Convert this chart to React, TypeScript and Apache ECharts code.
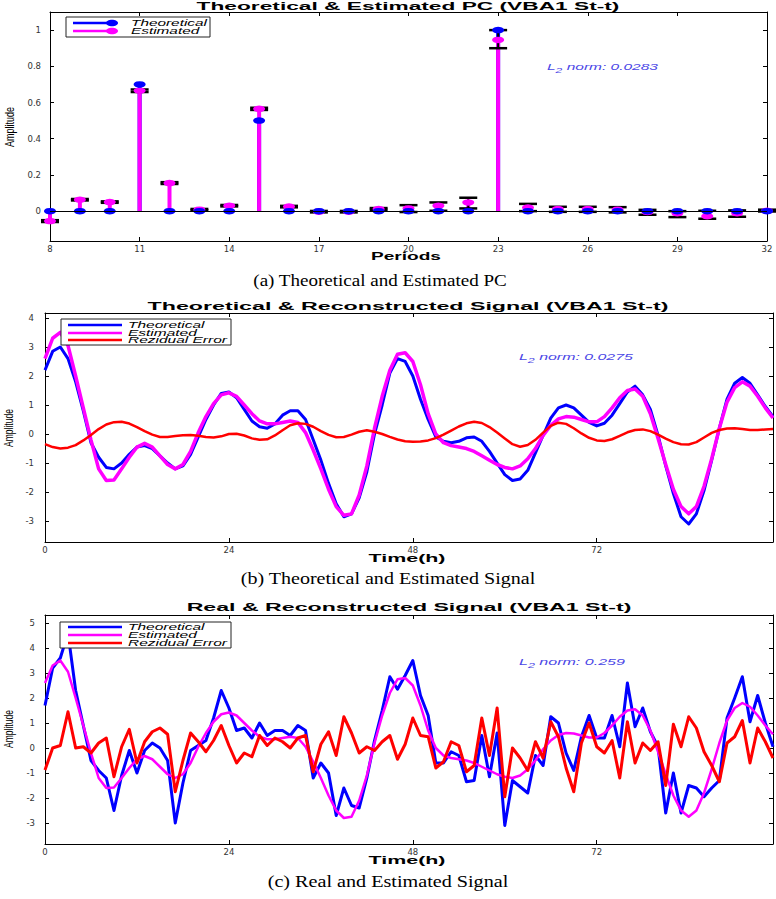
import React, { useEffect, useRef } from "react";
import * as echarts from "echarts";

// ---------- Data ----------
const periods = [8, 9, 10, 11, 12, 13, 14, 15, 16, 17, 18, 19, 20, 21, 22, 23, 24, 25, 26, 27, 28, 29, 30, 31, 32];
const theoreticalPC = [0, 0, 0, 0.7, 0, 0, 0, 0.5, 0, 0, 0, 0, 0, 0, 0, 1.0, 0, 0, 0, 0, 0, 0, 0, 0, 0];
const estimatedPC = [-0.055, 0.063, 0.05, 0.665, 0.155, 0.008, 0.03, 0.565, 0.025, -0.003, -0.003, 0.012, 0.015, 0.03, 0.048, 0.946, 0.02, 0.012, 0.012, 0.008, -0.005, -0.012, -0.028, -0.012, 0.002];
const errLowPC = [-0.06, 0.059, 0.046, 0.658, 0.15, 0.004, 0.026, 0.559, 0.021, -0.007, -0.007, 0.007, -0.005, 0.002, 0.015, 0.9, 0.0, -0.004, -0.004, -0.007, -0.02, -0.033, -0.042, -0.031, -0.002];
const errHighPC = [-0.05, 0.067, 0.054, 0.672, 0.16, 0.012, 0.034, 0.571, 0.029, 0.001, 0.001, 0.017, 0.033, 0.048, 0.074, 1.0, 0.04, 0.024, 0.024, 0.022, 0.007, 0.0, 0.002, 0.004, 0.008];
const pcXTicks = [8, 11, 14, 17, 20, 23, 26, 29, 32];
const pcYTicks = [0, 0.2, 0.4, 0.6, 0.8, 1];

const hours = [
  0, 1, 2, 3, 4, 5, 6, 7, 8, 9, 10, 11, 12, 13, 14, 15, 16, 17, 18, 19,
  20, 21, 22, 23, 24, 25, 26, 27, 28, 29, 30, 31, 32, 33, 34, 35, 36, 37, 38, 39,
  40, 41, 42, 43, 44, 45, 46, 47, 48, 49, 50, 51, 52, 53, 54, 55, 56, 57, 58, 59,
  60, 61, 62, 63, 64, 65, 66, 67, 68, 69, 70, 71, 72, 73, 74, 75, 76, 77, 78, 79,
  80, 81, 82, 83, 84, 85, 86, 87, 88, 89, 90, 91, 92, 93, 94, 95,
];
const theoreticalSignal = [
  2.2, 2.85, 3.0, 2.6, 1.8, 0.8, -0.3, -0.8, -1.15, -1.2,
  -1.0, -0.7, -0.45, -0.4, -0.5, -0.75, -1.0, -1.2, -1.1, -0.7,
  -0.1, 0.5, 1.0, 1.4, 1.45, 1.25, 0.85, 0.45, 0.25, 0.2,
  0.35, 0.65, 0.8, 0.8, 0.5, -0.2, -0.9, -1.7, -2.4, -2.85,
  -2.75, -2.2, -1.3, 0.0, 1.0, 2.1, 2.6, 2.5, 2.0, 1.2,
  0.5, -0.1, -0.25, -0.3, -0.25, -0.13, -0.1, -0.25, -0.6, -1.0,
  -1.4, -1.6, -1.55, -1.25, -0.65, -0.05, 0.55, 0.9, 1.0, 0.9,
  0.65, 0.4, 0.28, 0.37, 0.65, 1.05, 1.45, 1.65, 1.35, 0.85,
  -0.05, -1.1, -2.05, -2.85, -3.1, -2.75, -1.95, -0.9, 0.2, 1.2,
  1.75, 1.95, 1.75, 1.35, 0.95, 0.6,
];
const estimatedSignal = [
  2.6, 3.3, 3.5, 3.05, 2.0, 0.9, -0.2, -1.2, -1.6, -1.58,
  -1.2, -0.8, -0.45, -0.32, -0.45, -0.75, -1.05, -1.2, -1.05, -0.6,
  0.05, 0.6, 1.05, 1.35, 1.42, 1.3, 1.0, 0.7, 0.45, 0.35,
  0.35, 0.4, 0.45, 0.4, 0.05, -0.55, -1.2, -1.9, -2.5, -2.8,
  -2.75, -2.1, -1.1, 0.2, 1.3, 2.2, 2.75, 2.8, 2.5, 1.7,
  0.7, 0.0, -0.3, -0.4, -0.45, -0.5, -0.6, -0.75, -0.9, -1.05,
  -1.15, -1.2, -1.1, -0.85, -0.5, -0.05, 0.3, 0.52, 0.6, 0.58,
  0.5, 0.42, 0.42, 0.6, 0.9, 1.25, 1.5, 1.55, 1.3, 0.7,
  -0.15, -1.05, -1.9, -2.5, -2.75, -2.5, -1.8, -0.85, 0.2, 1.1,
  1.6, 1.8, 1.65, 1.3, 0.9, 0.55,
];
const residualSignal = [
  -0.35, -0.45, -0.5, -0.47, -0.38, -0.22, -0.03, 0.17, 0.33, 0.41,
  0.42, 0.36, 0.24, 0.1, -0.02, -0.1, -0.1, -0.07, -0.04, -0.03,
  -0.06, -0.1, -0.12, -0.08, 0.0, 0.01, -0.05, -0.15, -0.2, -0.18,
  -0.05, 0.13, 0.3, 0.37, 0.35, 0.25, 0.1, -0.03, -0.11, -0.1,
  -0.02, 0.08, 0.13, 0.08, 0.0, -0.1, -0.19, -0.25, -0.27, -0.26,
  -0.22, -0.14, -0.02, 0.12, 0.26, 0.37, 0.42, 0.38, 0.24, 0.05,
  -0.15, -0.35, -0.44, -0.38, -0.2, 0.05, 0.28, 0.39, 0.35, 0.2,
  0.02, -0.13, -0.22, -0.24, -0.18, -0.06, 0.06, 0.14, 0.16, 0.1,
  -0.02, -0.16, -0.28, -0.35, -0.36, -0.28, -0.12, 0.04, 0.14, 0.19,
  0.2, 0.17, 0.14, 0.14, 0.16, 0.17,
];
const realSignal = [
  1.7, 3.2, 3.6, 4.6, 2.3, 0.9, -0.5, -0.9, -1.2, -2.5,
  -1.1, -0.1, -1.0, -0.1, 0.2, 0.0, -0.5, -3.0, -1.4, -0.1,
  0.1, 0.3, 1.2, 2.3, 1.6, 0.7, 0.8, 0.4, 1.0, 0.5,
  0.7, 0.7, 0.5, 0.9, 0.7, -1.2, -0.6, -1.0, -2.7, -1.6,
  -2.3, -2.4, -1.2, 0.3, 1.5, 2.85, 2.35, 2.9, 3.5, 2.1,
  1.3, -0.6, -0.6, -0.15, -0.3, -1.35, -1.3, 0.5, -1.15, 0.6,
  -3.1, -1.3, -1.55, -1.8, -0.3, -0.7, 1.25, 1.0, -0.2, -0.9,
  0.45, 1.3, 0.4, 0.4, 1.3, 0.05, 2.6, 0.85, 1.6, 0.65,
  0.05, -2.6, -1.0, -2.6, -1.5, -1.6, -1.95, -1.6, -1.3, 1.2,
  2.0, 2.85, 1.05, 2.1, 1.0, 0.05,
];
const realResidual = [
  -0.88, 0.0, 0.1, 1.45, 0.0, 0.05, -0.2, 0.2, 0.4, -1.15,
  0.05, 0.75, -0.6, 0.25, 0.65, 0.8, 0.55, -1.75, -0.5, 0.6,
  0.25, -0.15, 0.3, 0.9, 0.1, -0.6, -0.2, -0.35, 0.5, 0.1,
  0.4, 0.25, 0.0, 0.4, 0.5, -0.95, 0.15, 0.65, -0.3, 1.25,
  0.6, -0.2, 0.05, -0.1, 0.25, 0.5, -0.45, 0.15, 1.2, 0.5,
  0.45, -0.8, -0.55, 0.25, 0.1, -0.95, -0.7, 1.2, -0.3, 1.6,
  -1.95, 0.0, -0.4, -0.9, 0.25, -0.4, 1.05, 0.45, -0.8, -1.75,
  0.2, 1.0, 0.05, -0.2, 0.3, -1.2, 1.05, -0.6, 0.2, -0.1,
  0.25, -1.5, 0.95, 0.05, 1.25, 0.8, -0.15, -0.7, -1.35, 0.2,
  0.45, 1.1, -0.6, 0.8, 0.25, -0.4,
];
const timeTicks = [0, 24, 48, 72];
const signalYTicks = [-3, -2, -1, 0, 1, 2, 3, 4];
const realYTicks = [-3, -2, -1, 0, 1, 2, 3, 4, 5];

const titles = [
  "Theoretical & Estimated PC (VBA1 St-t)",
  "Theoretical & Reconstructed Signal (VBA1 St-t)",
  "Real & Reconstructed Signal (VBA1 St-t)",
];
const captions = [
  "(a) Theoretical and Estimated PC",
  "(b) Theoretical and Estimated Signal",
  "(c) Real and Estimated Signal",
];
const normValues = ["0.0283", "0.0275", "0.259"];
const legendNames = ["Theoretical", "Estimated", "Rezidual Error"];

// ---------- Styling helpers ----------
const BLUE = "#0000ff";
const MAGENTA = "#ff00ff";
const RED = "#ff0000";
const NORM_COLOR = "#4a46e6";
const SANS = '"Liberation Sans", Arial, sans-serif';

let measureCtx: CanvasRenderingContext2D | null = null;
function fitScale(text: string, font: string, target: number): number {
  if (!measureCtx) measureCtx = document.createElement("canvas").getContext("2d");
  if (!measureCtx) return 1;
  measureCtx.font = font;
  const w = measureCtx.measureText(text).width;
  return w > 0 ? target / w : 1;
}

function txt(text: string, x: number, y: number, font: string, target: number | null, opts: any = {}) {
  const align = opts.align || "center";
  return {
    type: "text",
    x,
    y,
    z: 100,
    silent: true,
    rotation: opts.rotation || 0,
    scaleX: target ? fitScale(text, font, target) : 1,
    style: {
      text,
      font,
      fill: opts.fill || "#000",
      textAlign: align,
      textVerticalAlign: "middle",
      align,
      verticalAlign: "middle",
    },
  };
}

function normText(value: string, x: number, y: number, target: number) {
  const font = `italic 9px ${SANS}`;
  const scale = fitScale(`L2 norm: ${value}`, font, target);
  return {
    type: "text",
    x,
    y,
    z: 100,
    silent: true,
    scaleX: scale,
    style: {
      text: `{a|L}{b|2}{a| norm: ${value}}`,
      textAlign: "left",
      textVerticalAlign: "middle",
      align: "left",
      verticalAlign: "middle",
      rich: {
        a: { font, fill: NORM_COLOR, lineHeight: 14, verticalAlign: "middle" },
        b: { font: `italic 7px ${SANS}`, fill: NORM_COLOR, lineHeight: 14, verticalAlign: "bottom" },
      },
    },
  };
}

function legend(box: { x: number; y: number; w: number; h: number }, rows: number[], lineX: [number, number], textX: number, colors: string[], names: string[], textTarget: number, marker: boolean) {
  const font = `italic 9px ${SANS}`;
  const longest = names.reduce((a, b) => (a.length >= b.length ? a : b));
  const scale = fitScale(longest, font, textTarget);
  const children: any[] = [
    { type: "rect", z: 100, shape: { x: box.x, y: box.y, width: box.w, height: box.h }, style: { fill: "#fff", stroke: "#222", lineWidth: 1 } },
  ];
  rows.forEach((ry, i) => {
    children.push({ type: "line", z: 101, shape: { x1: lineX[0], y1: ry, x2: lineX[1], y2: ry }, style: { stroke: colors[i], lineWidth: 2.5 } });
    if (marker) {
      children.push({ type: "ellipse", z: 102, shape: { cx: lineX[1] - 2, cy: ry, rx: 6, ry: 3.2 }, style: { fill: colors[i] } });
    }
    children.push({
      type: "text",
      z: 102,
      x: textX,
      y: ry,
      scaleX: scale,
      style: { text: names[i], font, fill: "#000", textAlign: "left", textVerticalAlign: "middle", align: "left", verticalAlign: "middle" },
    });
  });
  return { type: "group", silent: true, children };
}

// ---------- Axis builders ----------
const tickStyle = { inside: true, length: 4, lineStyle: { color: "#000", width: 1 } };
const lineStyleAxis = { show: true, lineStyle: { color: "#000", width: 1 } };
const labelStyle = { color: "#333", fontSize: 8.5, fontFamily: '"DejaVu Sans", sans-serif' };

function xAxes(grid: number, min: number, max: number, ticks: number[]) {
  return [
    {
      type: "value", gridIndex: grid, position: "bottom", min, max,
      axisLine: { ...lineStyleAxis, onZero: false },
      axisTick: { ...tickStyle, customValues: ticks },
      axisLabel: { ...labelStyle, margin: 3, customValues: ticks },
      splitLine: { show: false },
    },
    {
      type: "value", gridIndex: grid, position: "top", min, max,
      axisLine: { ...lineStyleAxis, onZero: false },
      axisTick: { ...tickStyle, customValues: ticks },
      axisLabel: { show: false },
      splitLine: { show: false },
    },
  ];
}
function yAxes(grid: number, min: number, max: number, ticks: number[], margin: number) {
  return [
    {
      type: "value", gridIndex: grid, position: "left", min, max,
      axisLine: { ...lineStyleAxis, onZero: false },
      axisTick: { ...tickStyle, customValues: ticks },
      axisLabel: { ...labelStyle, margin, customValues: ticks },
      splitLine: { show: false },
    },
    {
      type: "value", gridIndex: grid, position: "right", min, max,
      axisLine: { ...lineStyleAxis, onZero: false },
      axisTick: { ...tickStyle, customValues: ticks },
      axisLabel: { show: false },
      splitLine: { show: false },
    },
  ];
}

function stemSeries(name: string, values: number[], color: string, width: number) {
  return {
    type: "custom",
    name,
    xAxisIndex: 0,
    yAxisIndex: 0,
    silent: true,
    encode: { x: 0, y: 1 },
    data: periods.map((p, i) => [p, values[i]]),
    renderItem: (_params: any, api: any) => {
      const p0 = api.coord([api.value(0), 0]);
      const p1 = api.coord([api.value(0), api.value(1)]);
      return { type: "line", shape: { x1: p0[0], y1: p0[1], x2: p1[0], y2: p1[1] }, style: { stroke: color, lineWidth: width } };
    },
  };
}

function markerSeries(name: string, values: number[], color: string) {
  return {
    type: "scatter",
    name,
    xAxisIndex: 0,
    yAxisIndex: 0,
    silent: true,
    symbol: "circle",
    symbolSize: [12, 6.5],
    itemStyle: { color, opacity: 1 },
    data: periods.map((p, i) => [p, values[i]]),
  };
}

function lineSeries(name: string, values: number[], color: string, width: number, axis: number) {
  return {
    type: "line",
    name,
    xAxisIndex: axis,
    yAxisIndex: axis,
    silent: true,
    showSymbol: false,
    symbol: "none",
    lineStyle: { color, width, join: "round" },
    itemStyle: { color },
    data: hours.map((h, i) => [h, values[i]]),
  };
}

function buildOption(): any {
  const errorBars = {
    type: "custom",
    name: "Error",
    xAxisIndex: 0,
    yAxisIndex: 0,
    silent: true,
    encode: { x: 0, y: [1, 2] },
    data: periods.map((p, i) => [p, errLowPC[i], errHighPC[i]]),
    renderItem: (_params: any, api: any) => {
      const x = api.value(0);
      const lo = api.coord([x, api.value(1)]);
      const hi = api.coord([x, api.value(2)]);
      const hw = 9;
      const st = { stroke: "#000", lineWidth: 2.5 };
      return {
        type: "group",
        children: [
          { type: "line", shape: { x1: lo[0], y1: lo[1], x2: hi[0], y2: hi[1] }, style: { stroke: "#000", lineWidth: 2 } },
          { type: "line", shape: { x1: lo[0] - hw, y1: lo[1], x2: lo[0] + hw, y2: lo[1] }, style: st },
          { type: "line", shape: { x1: hi[0] - hw, y1: hi[1], x2: hi[0] + hw, y2: hi[1] }, style: st },
        ],
      };
    },
  };

  const blueStems: any = stemSeries("Theoretical stems", theoreticalPC, BLUE, 4);
  blueStems.markLine = {
    silent: true,
    symbol: ["none", "none"],
    label: { show: false },
    lineStyle: { color: "#000", width: 1, type: "solid" },
    data: [{ yAxis: 0 }],
  };

  const series = [
    blueStems,
    stemSeries("Estimated stems", estimatedPC, MAGENTA, 4),
    markerSeries("Estimated", estimatedPC, MAGENTA),
    markerSeries("Theoretical", theoreticalPC, BLUE),
    errorBars,
    lineSeries("Theoretical", theoreticalSignal, BLUE, 3, 2),
    lineSeries("Estimated", estimatedSignal, MAGENTA, 3.5, 2),
    lineSeries("Rezidual Error", residualSignal, RED, 2.5, 2),
    lineSeries("Theoretical", realSignal, BLUE, 3, 4),
    lineSeries("Estimated", estimatedSignal, MAGENTA, 2.5, 4),
    lineSeries("Rezidual Error", realResidual, RED, 3, 4),
  ];

  const titleFont = `bold 11px ${SANS}`;
  const nameFont = `bold 10px ${SANS}`;
  const ampFont = `12px ${SANS}`;
  const capFont = `16px "Liberation Serif", "Times New Roman", serif`;

  const graphic = [
    txt(titles[0], 408, 6, titleFont, 423),
    txt(titles[1], 408, 306, titleFont, 521),
    txt(titles[2], 409, 607, titleFont, 445),
    txt("Periods", 406, 256, nameFont, 70),
    txt("Time(h)", 407, 559, nameFont, 77),
    txt("Time(h)", 407, 861, nameFont, 77),
    txt("Amplitude", 9, 127, ampFont, 40, { rotation: Math.PI / 2 }),
    txt("Amplitude", 9, 428, ampFont, 38, { rotation: Math.PI / 2 }),
    txt("Amplitude", 9, 729, ampFont, 38, { rotation: Math.PI / 2 }),
    txt(captions[0], 380, 281, capFont, 254),
    txt(captions[1], 388, 579, capFont, 295),
    txt(captions[2], 388, 882, capFont, 241),
    normText(normValues[0], 547, 67, 113),
    normText(normValues[1], 519, 357, 116),
    normText(normValues[2], 519, 662, 108),
    legend({ x: 66, y: 17, w: 144, h: 20 }, [23, 31], [73, 114], 131, [BLUE, MAGENTA], legendNames.slice(0, 2), 76, true),
    legend({ x: 61, y: 319, w: 170, h: 26 }, [325, 333, 340], [68, 122], 128, [BLUE, MAGENTA, RED], legendNames, 99, false),
    legend({ x: 60, y: 622, w: 171, h: 26 }, [627, 635, 643], [68, 122], 128, [BLUE, MAGENTA, RED], legendNames, 99, false),
  ];

  return {
    animation: false,
    backgroundColor: "#fff",
    grid: [
      { left: 50, top: 12, width: 717, height: 229 },
      { left: 45, top: 313, width: 728, height: 229 },
      { left: 45, top: 615, width: 728, height: 229 },
    ],
    xAxis: [
      ...xAxes(0, 8, 32, pcXTicks),
      ...xAxes(1, 0, 95, timeTicks),
      ...xAxes(2, 0, 95, timeTicks),
    ],
    yAxis: [
      ...yAxes(0, -0.165, 1.1, pcYTicks, 9),
      ...yAxes(1, -3.72, 4.17, signalYTicks, 11),
      ...yAxes(2, -3.84, 5.32, realYTicks, 10),
    ],
    series,
    graphic,
  };
}

export default function App() {
  const ref = useRef<HTMLDivElement>(null);
  useEffect(() => {
    if (!ref.current) return;
    const chart = echarts.init(ref.current, null, { renderer: "svg" });
    chart.setOption(buildOption());
    return () => chart.dispose();
  }, []);
  return (
    <div
      ref={ref}
      style={{ position: "absolute", left: 0, top: 0, width: 776, height: 899, background: "#fff" }}
    />
  );
}
